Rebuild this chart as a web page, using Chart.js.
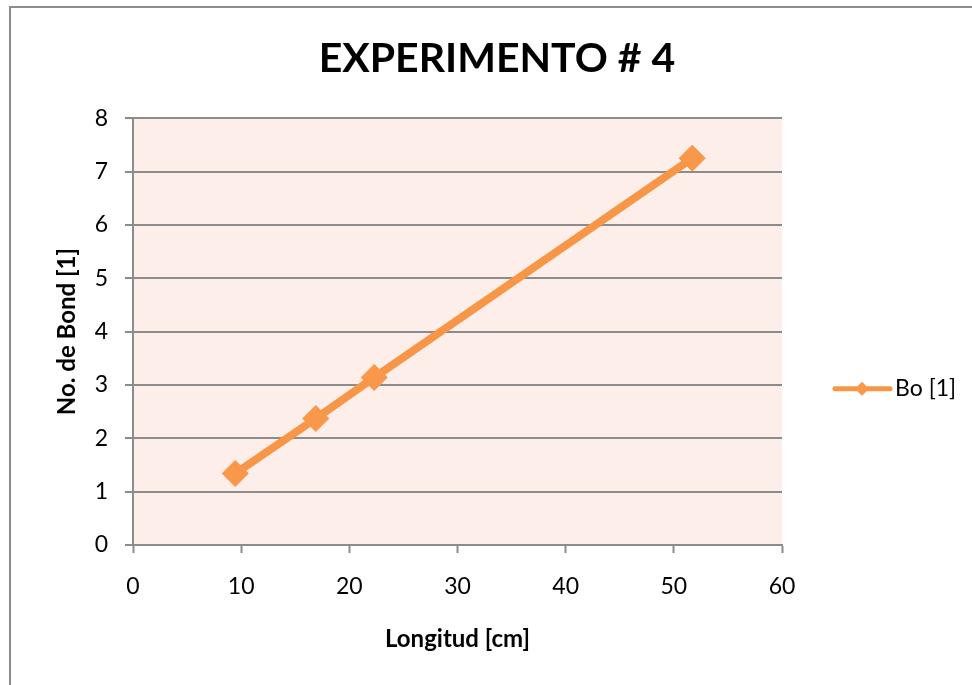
<!DOCTYPE html>
<html>
<head>
<meta charset="utf-8">
<title>Experimento # 4</title>
<script src="https://cdn.jsdelivr.net/npm/chart.js@4.4.0/dist/chart.umd.min.js"></script>
<style>
    html, body { margin: 0; padding: 0; background: #fff; overflow: hidden; }
    .frame { position: absolute; left: 9px; top: 6px; width: 1000px; height: 1000px; border: 2px solid #8c8c8c; }
    #bondChart { position: absolute; left: 0; top: 0; }
</style>
</head>
<body>
<div class="frame"></div>
<canvas id="bondChart" width="972" height="685"></canvas>
<script>
// Measurements
const longitud = [9.45, 16.9, 22.3, 51.7];
const bond = [1.34, 2.37, 3.14, 7.25];

// Axis ranges
const xTicks = [0, 10, 20, 30, 40, 50, 60];
const yTicks = [0, 1, 2, 3, 4, 5, 6, 7, 8];

const yTitle = 'No. de Bond [1]';

const orange = '#f79646';
const gridGray = '#8c8c8c';

const initChart = () => {

    // Pink plot background
    const plotBackground = {
        id: 'plotBackground',
        beforeDraw(chart) {
            const { ctx, chartArea } = chart;
            ctx.save();
            ctx.fillStyle = '#fdeee9';
            ctx.fillRect(chartArea.left, chartArea.top, chartArea.width, chartArea.height);
            ctx.restore();
        }
    };

    // Rotated y title, placed at a fixed distance from the plot
    const sideTitle = {
        id: 'sideTitle',
        afterDraw(chart) {
            const { ctx, chartArea } = chart;
            ctx.save();
            ctx.translate(chartArea.left - 66, (chartArea.top + chartArea.bottom) / 2);
            ctx.rotate(-Math.PI / 2);
            ctx.fillStyle = '#000';
            ctx.font = 'bold 24px Lato';
            ctx.textAlign = 'center';
            ctx.textBaseline = 'middle';
            ctx.fillText(yTitle, 0, 0);
            ctx.restore();
        }
    };

    // Legend on the right: line with a diamond and the series name
    const sideLegend = {
        id: 'sideLegend',
        afterDraw(chart) {
            const { ctx, chartArea } = chart;
            const ds = chart.data.datasets[0];
            const x = chartArea.right + 53;
            const y = chartArea.top + chartArea.height * 0.634;
            const mid = x + 27;

            ctx.save();
            ctx.strokeStyle = ds.borderColor;
            ctx.lineWidth = 5;
            ctx.lineCap = 'round';
            ctx.beginPath();
            ctx.moveTo(x, y);
            ctx.lineTo(x + 55, y);
            ctx.stroke();

            ctx.fillStyle = ds.pointBackgroundColor;
            ctx.beginPath();
            ctx.moveTo(mid, y - 7);
            ctx.lineTo(mid + 7, y);
            ctx.lineTo(mid, y + 7);
            ctx.lineTo(mid - 7, y);
            ctx.closePath();
            ctx.fill();

            ctx.fillStyle = '#000';
            ctx.font = '23px Lato';
            ctx.textBaseline = 'middle';
            ctx.fillText(ds.label, x + 60, y);
            ctx.restore();
        }
    };

    const canvas = document.getElementById('bondChart');

    new Chart(canvas, {
        type: 'scatter',
        data: {
            datasets: [{
                label: 'Bo [1]',
                data: longitud.map((x, i) => ({ x: x, y: bond[i] })),
                showLine: true,
                borderColor: orange,
                borderWidth: 8,
                pointStyle: 'rectRot',
                pointRadius: 13,
                pointHoverRadius: 13,
                pointBackgroundColor: '#f9974a',
                pointBorderColor: '#f9974a',
                pointBorderWidth: 1
            }]
        },
        options: {
            responsive: false,
            animation: false,
            layout: {
                padding: { left: 22, top: 0, right: 0, bottom: 0 }
            },
            plugins: {
                legend: { display: false },
                tooltip: { enabled: false },
                title: {
                    display: true,
                    text: 'EXPERIMENTO # 4',
                    color: '#000',
                    font: { family: 'Lato', size: 41, weight: 'bold' },
                    padding: { top: 34, bottom: 35 }
                }
            },
            scales: {
                x: {
                    type: 'linear',
                    min: xTicks[0],
                    max: xTicks[xTicks.length - 1],
                    afterBuildTicks: (scale) => {
                        scale.ticks = xTicks.map(v => ({ value: v }));
                    },
                    afterFit: (scale) => { scale.height = 140; },
                    grid: {
                        drawOnChartArea: false,
                        drawTicks: true,
                        tickLength: 8,
                        tickColor: gridGray,
                        tickWidth: 2
                    },
                    border: { display: true, color: gridGray, width: 2 },
                    ticks: {
                        color: '#000',
                        padding: 20,
                        maxRotation: 0,
                        font: { family: 'Lato', size: 23 }
                    },
                    title: {
                        display: true,
                        text: 'Longitud [cm]',
                        color: '#000',
                        font: { family: 'Lato', size: 24, weight: 'bold' },
                        padding: { top: 0, bottom: 31 }
                    }
                },
                y: {
                    type: 'linear',
                    min: yTicks[0],
                    max: yTicks[yTicks.length - 1],
                    afterBuildTicks: (scale) => {
                        scale.ticks = yTicks.map(v => ({ value: v }));
                    },
                    afterFit: (scale) => { scale.width = 111; },
                    grid: {
                        color: gridGray,
                        lineWidth: 2,
                        drawTicks: true,
                        tickLength: 8,
                        tickColor: gridGray,
                        tickWidth: 2
                    },
                    border: { display: true, color: gridGray, width: 2 },
                    ticks: {
                        color: '#000',
                        padding: 17,
                        font: { family: 'Lato', size: 23 }
                    },
                    title: { display: false }
                },
                // empty axis on the right, keeps room for the legend
                legendSpace: {
                    type: 'linear',
                    position: 'right',
                    display: true,
                    afterFit: (scale) => { scale.width = 190; },
                    grid: { display: false },
                    border: { display: false },
                    ticks: { display: false }
                }
            }
        },
        plugins: [plotBackground, sideTitle, sideLegend]
    });
};

document.addEventListener('DOMContentLoaded', initChart);
</script>
</body>
</html>
